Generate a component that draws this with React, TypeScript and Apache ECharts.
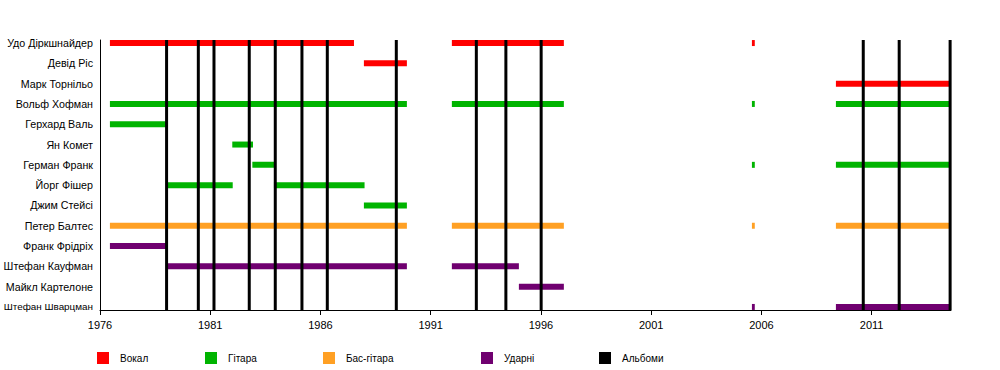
import React, { useEffect, useRef } from "react";
import * as echarts from "echarts";

const members = [
  "Удо Діркшнайдер",
  "Девід Ріс",
  "Марк Торнільо",
  "Вольф Хофман",
  "Герхард Валь",
  "Ян Комет",
  "Герман Франк",
  "Йорг Фішер",
  "Джим Стейсі",
  "Петер Балтес",
  "Франк Фрідріх",
  "Штефан Кауфман",
  "Майкл Картелоне",
  "Штефан Шварцман",
];

// [rowIndex, start, end]
const vocals: number[][] = [
  [0, 1976.45, 1987.52],
  [0, 1991.96, 1997.04],
  [0, 2005.57, 2005.7],
  [1, 1987.97, 1989.92],
  [2, 2009.38, 2014.6],
];
const guitar: number[][] = [
  [3, 1976.45, 1989.92],
  [3, 1991.96, 1997.04],
  [3, 2005.57, 2005.7],
  [3, 2009.38, 2014.6],
  [4, 1976.45, 1979.03],
  [5, 1982.0, 1982.94],
  [6, 1982.91, 1983.92],
  [6, 2005.57, 2005.7],
  [6, 2009.38, 2014.6],
  [7, 1979.02, 1982.02],
  [7, 1983.89, 1988.0],
  [8, 1987.97, 1989.92],
];
const bass: number[][] = [
  [9, 1976.45, 1989.92],
  [9, 1991.96, 1997.04],
  [9, 2005.57, 2005.7],
  [9, 2009.38, 2014.6],
];
const drums: number[][] = [
  [10, 1976.45, 1979.03],
  [11, 1979.02, 1989.92],
  [11, 1991.96, 1995.0],
  [12, 1995.0, 1997.04],
  [13, 2005.57, 2005.7],
  [13, 2009.38, 2014.6],
];
const albums: number[] = [
  1979.02, 1980.46, 1981.17, 1982.77, 1983.95, 1985.16, 1986.31, 1989.44,
  1993.07, 1994.41, 1996.01, 2010.62, 2012.25, 2014.56,
];
const yearTicks: number[] = [1976, 1981, 1986, 1991, 1996, 2001, 2006, 2011];

const X_MIN = 1976;
const X_MAX = 2014.6;
const Y_MIN = -0.15;
const Y_MAX = 13.15;

const FONT = "'Liberation Sans', Arial, sans-serif";

function barSeries(name: string, color: string, data: number[][]) {
  return {
    type: "custom",
    name,
    color,
    data,
    z: 2,
    encode: { x: [1, 2], y: 0 },
    renderItem: (params: any, api: any) => {
      const row = api.value(0);
      const p1 = api.coord([api.value(1), row]);
      const p2 = api.coord([api.value(2), row]);
      const h = 6;
      return {
        type: "rect",
        shape: { x: p1[0], y: p1[1] - h / 2, width: Math.max(p2[0] - p1[0], 1), height: h },
        style: { fill: color },
      };
    },
  };
}

export default function App() {
  const ref = useRef<HTMLDivElement>(null);
  useEffect(() => {
    if (!ref.current) return;
    const chart = echarts.init(ref.current, null, { renderer: "svg" });
    const legendNames = ["Вокал", "Гітара", "Бас-гітара", "Ударні", "Альбоми"];
    const legendLefts = [97, 205, 323, 481, 599];
    chart.setOption({
      animation: false,
      backgroundColor: "#fff",
      textStyle: { fontFamily: FONT },
      grid: { left: 100, right: 49, top: 40, bottom: 60, outerBoundsMode: "none", containLabel: false },
      legend: legendNames.map((n, i) => ({
        data: [{ name: n, icon: "rect" }],
        left: legendLefts[i],
        top: 352,
        itemWidth: 12,
        itemHeight: 12,
        padding: 0,
        selectedMode: false,
        textStyle: { fontSize: 10, color: "#000", fontFamily: FONT, padding: [0, 0, 0, 6] },
      })),
      xAxis: {
        type: "value",
        min: X_MIN,
        max: X_MAX,
        splitLine: { show: false },
        axisLine: { show: true, onZero: false, lineStyle: { color: "#000", width: 1 } },
        axisTick: { show: true, length: 5, customValues: yearTicks, lineStyle: { color: "#000" } },
        axisLabel: {
          customValues: yearTicks,
          color: "#000",
          fontSize: 11,
          fontFamily: FONT,
          margin: 9,
          formatter: (v: number) => String(v),
        },
      },
      yAxis: {
        type: "value",
        inverse: true,
        min: Y_MIN,
        max: Y_MAX,
        splitLine: { show: false },
        axisLine: { show: true, onZero: false, lineStyle: { color: "#000", width: 1 } },
        axisTick: { show: false },
        axisLabel: {
          customValues: members.map((_, i) => i),
          color: "#000",
          fontSize: 10.7,
          fontFamily: FONT,
          margin: 7,
          formatter: (v: number) => {
            const name = members[Math.round(v)] ?? "";
            return name.length > 14 && name.startsWith("Штефан Ш") ? `{s|${name}}` : name;
          },
          rich: { s: { fontSize: 9.9, fontFamily: FONT, color: "#000" } },
        },
      },
      series: [
        barSeries("Вокал", "#ff0000", vocals),
        barSeries("Гітара", "#00b400", guitar),
        barSeries("Бас-гітара", "#ffa024", bass),
        barSeries("Ударні", "#700070", drums),
        {
          type: "custom",
          name: "Альбоми",
          color: "#000",
          z: 5,
          data: albums.map((a) => [a]),
          encode: { x: 0 },
          renderItem: (params: any, api: any) => {
            const x = api.coord([api.value(0), Y_MIN])[0];
            const cs = params.coordSys;
            return {
              type: "line",
              shape: { x1: x, y1: cs.y, x2: x, y2: cs.y + cs.height },
              style: { stroke: "#000", lineWidth: 3 },
            };
          },
        },
      ],
    });
    return () => chart.dispose();
  }, []);
  return <div ref={ref} style={{ width: 1000, height: 370, position: "absolute", left: 0, top: 0 }} />;
}
